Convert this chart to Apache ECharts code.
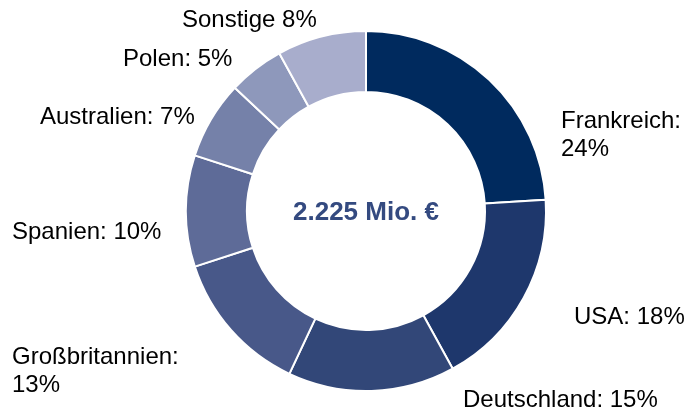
<!DOCTYPE html>
<html>
<head>
<meta charset="utf-8">
<script src="https://cdn.jsdelivr.net/npm/echarts@6/dist/echarts.min.js"></script>
<style>
  html, body { margin: 0; padding: 0; background: #fff; }
  #chart { width: 686px; height: 410px; }
</style>
</head>
<body>
<div id="chart"></div>
<script>
// Umsatz nach Ländern (Anteile in %)
const countries = ['Frankreich', 'USA', 'Deutschland', 'Großbritannien', 'Spanien', 'Australien', 'Polen', 'Sonstige']
const shares = [24, 18, 15, 13, 10, 7, 5, 8]
const separators = [':\n', ': ', ': ', ':\n', ': ', ': ', ': ', ' ']
const totalText = '2.225 Mio. €'

const colors = ['#002a5e', '#1e376c', '#324778', '#485889', '#5e6b98', '#7581a9', '#8e98bb', '#a8adcc']
// where each label sits (left edge, vertical middle)
const labelPos = [
  [561, 135], [574, 317], [463, 400], [12, 371],
  [12, 232], [40, 117], [123, 59], [182, 20]
]

const myChart = echarts.init(document.getElementById('chart'))
myChart.setOption({
  animation: false,
  color: colors,
  graphic: [
    {
      type: 'text',
      x: 366,
      y: 213,
      style: {
        text: totalText,
        align: 'center',
        verticalAlign: 'middle',
        fontFamily: 'Liberation Sans',
        fontSize: 26,
        fontWeight: 'bold',
        fill: '#344a80'
      }
    }
  ],
  series: [
    {
      type: 'pie',
      center: [366, 211],
      radius: [119, 180],
      startAngle: 90,
      clockwise: true,
      itemStyle: {
        borderColor: '#fff',
        borderWidth: 2
      },
      label: {
        show: true,
        position: 'outside',
        overflow: 'none',
        fontFamily: 'Liberation Sans',
        fontSize: 24,
        lineHeight: 28,
        color: '#000',
        formatter: (p) => p.name + separators[p.dataIndex] + p.value + '%'
      },
      labelLine: { show: false },
      labelLayout: (p) => ({
        x: labelPos[p.dataIndex][0],
        y: labelPos[p.dataIndex][1],
        align: 'left',
        verticalAlign: 'middle'
      }),
      data: countries.map((name, i) => ({ name: name, value: shares[i] }))
    }
  ]
})
window.addEventListener('resize', () => {
  myChart.resize()
})
</script>
</body>
</html>
